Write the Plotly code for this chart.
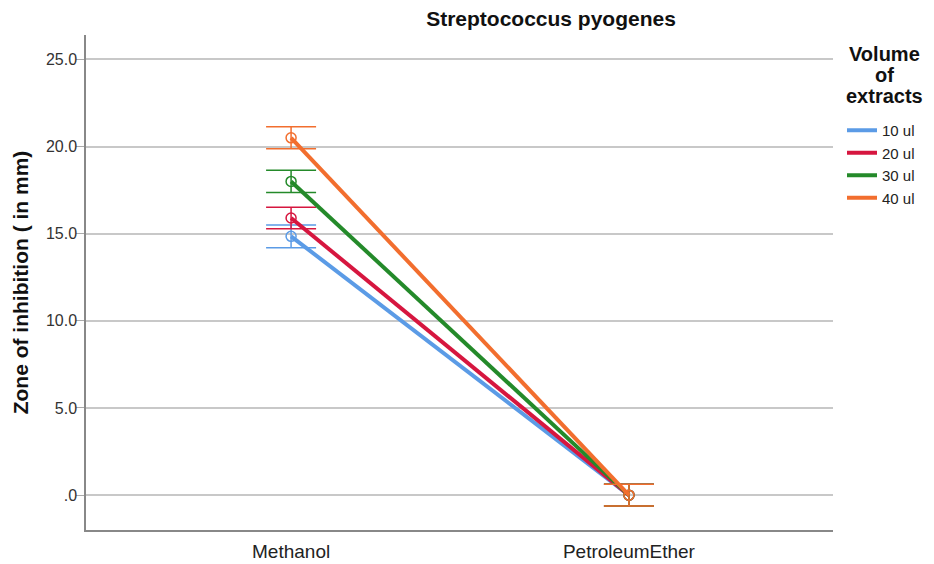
import plotly.graph_objects as go

# Extract solvents on the category axis
solvents = ["Methanol", "PetroleumEther"]

# Mean zone of inhibition (mm) per extract volume
series_names = ["10 ul", "20 ul", "30 ul", "40 ul"]
mean_10 = [14.85, 0.0]
mean_20 = [15.9, 0.0]
mean_30 = [18.0, 0.0]
mean_40 = [20.5, 0.0]

# Error bar half-widths (mm)
err_10 = [0.65, 0.62]
err_20 = [0.62, 0.62]
err_30 = [0.64, 0.62]
err_40 = [0.63, 0.62]

colors = ["#5b9be6", "#d6163f", "#248a2a", "#f26e2e"]
means = [mean_10, mean_20, mean_30, mean_40]
errs = [err_10, err_20, err_30, err_40]

W, H = 934, 564
ML, MR, MT, MB = 86, 101, 35, 34

fig = go.Figure()
for name, m, e, c in zip(series_names, means, errs, colors):
    fig.add_trace(go.Scatter(
        x=solvents, y=m, name=name, mode="lines+markers", showlegend=False,
        line=dict(color=c, width=4),
        marker=dict(symbol="circle-open", size=10, color=c, line=dict(width=1.5, color=c)),
        error_y=dict(type="data", array=e, visible=True, color=c, thickness=1.5, width=25),
    ))
# Legend entries show the line style only
for name, c in zip(series_names, colors):
    fig.add_trace(go.Scatter(
        x=[None], y=[None], name=name, mode="lines",
        line=dict(color=c, width=4),
    ))

def px_to_paper_x(px):
    return (px - ML) / (W - ML - MR)

def px_to_paper_y(py):
    return (H - MB - py) / (H - MT - MB)

# Legend heading, one annotation per line for tight line spacing
legend_heading = ["Volume", "of", "extracts"]
heading_y = [54, 75, 96]
annotations = [
    dict(text=f"<b>{t}</b>", xref="paper", yref="paper",
         x=px_to_paper_x(884), y=px_to_paper_y(yy), xanchor="center", yanchor="middle",
         showarrow=False, font=dict(size=20, color="#111111"))
    for t, yy in zip(legend_heading, heading_y)
]

font = "Liberation Sans, Arial, sans-serif"
fig.update_layout(
    width=W, height=H,
    margin=dict(l=ML, r=MR, t=MT, b=MB),
    plot_bgcolor="white", paper_bgcolor="white",
    font=dict(family=font, color="#222222"),
    title=dict(text="<b>Streptococcus pyogenes</b>", x=551 / W, xanchor="center",
               y=1 - 19 / H, yanchor="middle", font=dict(size=21, color="#111111")),
    showlegend=True,
    legend=dict(
        x=px_to_paper_x(842), xanchor="left", y=px_to_paper_y(114), yanchor="top",
        font=dict(size=15, color="#222222"),
        itemwidth=30, tracegroupgap=0,
    ),
    annotations=annotations,
    xaxis=dict(
        type="category", range=[-0.607, 1.604], automargin=False,
        showgrid=False, showline=True, linecolor="#888888", linewidth=1.5,
        ticks="outside", ticklen=3, tickcolor="rgba(0,0,0,0)",
        tickfont=dict(size=19, color="#222222"),
        zeroline=False,
    ),
    yaxis=dict(
        range=[-2.0, 26.4], automargin=False,
        tickvals=[0, 5, 10, 15, 20, 25],
        ticktext=[".0", "5.0", "10.0", "15.0", "20.0", "25.0"],
        showgrid=True, gridcolor="#c8c8c8", gridwidth=1.5,
        showline=True, linecolor="#888888", linewidth=1.5,
        ticks="outside", ticklen=8, tickcolor="#aaaaaa",
        ticklabelstandoff=-4,
        tickfont=dict(size=16, color="#333333"),
        zeroline=False,
        title=dict(text="<b>Zone of inhibition ( in mm)</b>", font=dict(size=21, color="#111111"),
                   standoff=12),
    ),
)

fig.write_html("out.html")
